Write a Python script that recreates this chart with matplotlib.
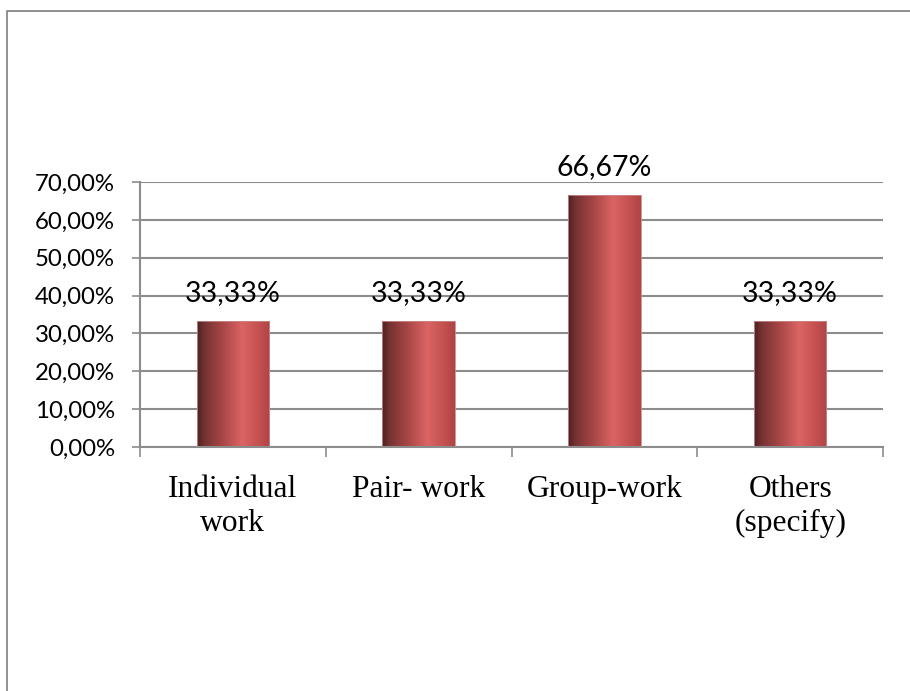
import numpy as np
import matplotlib.pyplot as plt
from matplotlib.colors import LinearSegmentedColormap
from matplotlib.lines import Line2D
from matplotlib.ticker import FuncFormatter

categories = ["Individual\nwork", "Pair- work", "Group-work", "Others\n(specify)"]
shares = [33.33, 33.33, 66.67, 33.33]
value_labels = ["33,33%", "33,33%", "66,67%", "33,33%"]
y_ticks = [0, 10, 20, 30, 40, 50, 60, 70]

GRID = "#8c8c8c"

# horizontal shading across each bar: dark left edge, highlight past the middle
bar_cmap = LinearSegmentedColormap.from_list(
    "bar_shade",
    [(0.0, "#4e2222"), (0.12, "#7a3434"), (0.35, "#a84646"),
     (0.62, "#db6464"), (0.85, "#c45050"), (1.0, "#b04444")],
)

fig = plt.figure(figsize=(9.1, 6.91), dpi=100)
ax = fig.add_axes([140 / 910, 1 - 447 / 691, 743 / 910, 265 / 691])

x = np.arange(len(categories))
width = 0.39
bars = ax.bar(x, shares, width=width, color="none", edgecolor="#c88a8a",
              linewidth=0.6, zorder=3)

shade = np.linspace(0, 1, 256).reshape(1, -1)
for b in bars:
    x0, y0 = b.get_x(), b.get_y()
    w, h = b.get_width(), b.get_height()
    img = ax.imshow(shade, cmap=bar_cmap, aspect="auto", zorder=2.5,
                    extent=[x0, x0 + w, y0, y0 + h], interpolation="bicubic")
    img.set_clip_path(b)

for xi, val, txt in zip(x, shares, value_labels):
    ax.annotate(txt, (xi, val), xytext=(0, 14), textcoords="offset points",
                ha="center", va="baseline", fontsize=20.5, family="Lato",
                color="black", zorder=4)

ax.set_xlim(-0.5, len(categories) - 0.5)
ax.set_ylim(0, 70)
ax.set_yticks(y_ticks)
ax.yaxis.set_major_formatter(FuncFormatter(lambda v, _: f"{v:.2f}%".replace(".", ",")))
ax.grid(axis="y", color=GRID, linewidth=1.5, zorder=0)
ax.set_axisbelow(True)

ax.set_xticks(x)
ax.set_xticklabels(categories, family="Liberation Serif", fontsize=22.7,
                   linespacing=1.22)
ax.set_xticks(np.arange(-0.5, len(categories) - 0.5 + 0.01, 1.0), minor=True)
ax.tick_params(axis="x", which="major", length=0, pad=20)
ax.tick_params(axis="x", which="minor", length=7, width=1.2, color=GRID,
               direction="out")
ax.tick_params(axis="y", length=6, width=1.2, color=GRID, pad=12)
for lab in ax.get_yticklabels():
    lab.set_family("Lato")
    lab.set_fontsize(17.3)

for side in ("top", "right"):
    ax.spines[side].set_visible(False)
for side in ("left", "bottom"):
    ax.spines[side].set_color(GRID)
    ax.spines[side].set_linewidth(1.5)

# frame around the chart, running off the right and bottom edges
fx = 7 / 910
fy = 1 - 11 / 691
fig.add_artist(Line2D([fx, fx, 1.0], [0.0, fy, fy], transform=fig.transFigure,
                      color="#888888", linewidth=1.3))

fig.savefig("out.png", dpi=100)
